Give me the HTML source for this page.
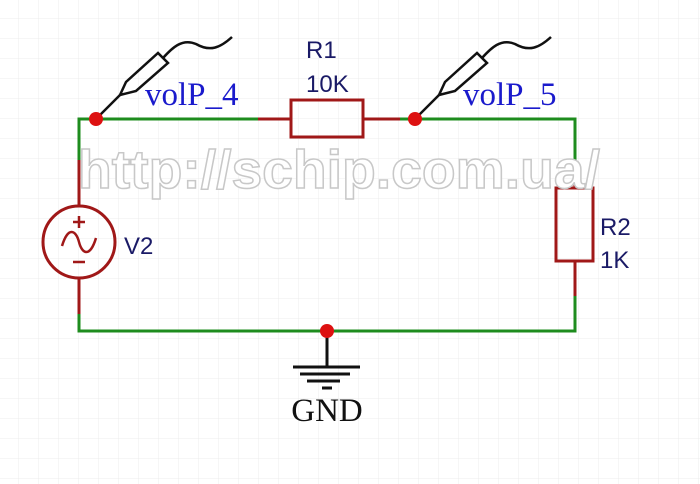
<!DOCTYPE html><html><head><meta charset="utf-8"><style>body{margin:0;background:#fff}svg{display:block}</style></head><body>
<svg width="700" height="484" viewBox="0 0 700 484" xmlns="http://www.w3.org/2000/svg">
<defs><pattern id="g" width="20" height="20" patternUnits="userSpaceOnUse" x="-1" y="-1"><path d="M20 0V20H0" fill="none" stroke="#ececec" stroke-width="1"/></pattern>
<g id="probe" fill="none" stroke="#111" stroke-width="2.5">
<path d="M96 119 L120 95"/>
<path d="M120 95 L126 82 L158 53 L168 63 L136 91 Z"/>
<path d="M163 58 C172 48 182 38 196 44 C210 52 220 48 232 37"/>
</g></defs>
<rect width="700" height="484" fill="url(#g)"/>
<g fill="none" stroke-width="3">
<path d="M79 160 V119 H258" stroke="#1e8c1e"/>
<path d="M400 119 H575 V170" stroke="#1e8c1e"/>
<path d="M575 296 V331 H79 V314" stroke="#1e8c1e"/>
<path d="M258 119 H291 M363 119 H400" stroke="#a01818"/>
<path d="M79 160 V206 M79 278 V314" stroke="#a01818"/>
<path d="M575 170 V188 M575 261 V296" stroke="#a01818"/>
<rect x="291" y="100" width="72" height="37" stroke="#a01818"/>
<rect x="556" y="188" width="37" height="73" stroke="#a01818"/>
<circle cx="79" cy="242" r="36" stroke="#a01818"/>
<path d="M62 246 C68 226 76 230 79 242 C82 254 90 258 96 238" stroke="#a01818" stroke-width="2.5"/>
<path d="M73 222 H85 M79 216 V228 M73 262 H85" stroke="#a01818" stroke-width="2.5"/>
<path d="M327 331 V367 M293 367 H360 M300 374 H350 M307 381 H340 M322 388 H332" stroke="#111"/>
</g>
<use href="#probe"/><use href="#probe" transform="translate(319 0)"/>
<g fill="#dd1111"><circle cx="96" cy="119" r="7"/><circle cx="415" cy="119" r="7"/><circle cx="327" cy="331" r="7"/></g>
<text x="78" y="188" font-family="Liberation Sans, sans-serif" font-weight="bold" font-size="54" fill="#fff" stroke="#c8c8c8" stroke-width="1.5" textLength="522" lengthAdjust="spacingAndGlyphs">http://schip.com.ua/</text>
<g font-family="Liberation Serif, serif" font-size="33" fill="#1a1acc">
<text x="145" y="105">volP_4</text><text x="463" y="105">volP_5</text></g>
<g font-family="Liberation Sans, sans-serif" font-size="24" fill="#1a1a66">
<text x="306" y="58">R1</text><text x="306" y="92">10K</text>
<text x="124" y="254">V2</text>
<text x="600" y="235">R2</text><text x="600" y="268">1K</text></g>
<text x="327" y="421" text-anchor="middle" font-family="Liberation Serif, serif" font-size="33" fill="#111">GND</text>
</svg></body></html>
